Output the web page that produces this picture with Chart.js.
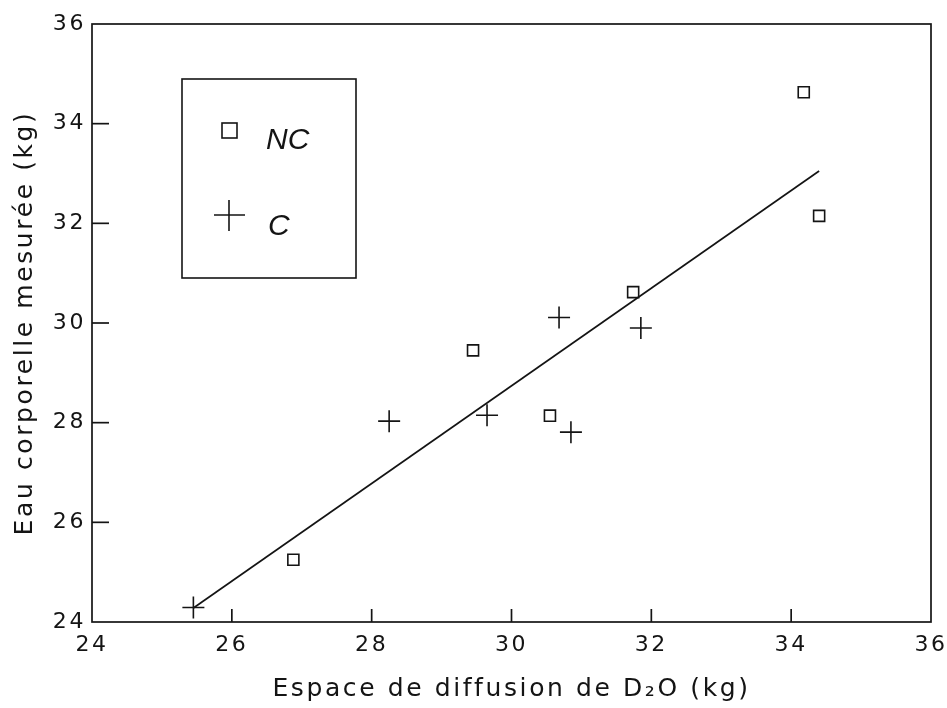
<!DOCTYPE html>
<html>
<head>
<meta charset="utf-8">
<script src="https://cdn.jsdelivr.net/npm/chart.js@4/dist/chart.umd.min.js"></script>
<style>
  body { margin: 0; background: #fff; }
  #wrap { width: 947px; height: 708px; position: relative; }
</style>
</head>
<body>
<div id="wrap"><canvas id="waterChart"></canvas></div>
<script>
// Data
const ncX = [26.88, 29.45, 30.55, 31.74, 34.18, 34.40];
const ncY = [25.25, 29.45, 28.14, 30.62, 34.63, 32.15];
const cX = [25.45, 28.25, 29.65, 30.68, 30.85, 31.85];
const cY = [24.29, 28.03, 28.15, 30.11, 27.81, 29.90];
const fitX = [25.45, 34.40];
const fitY = [24.28, 33.05];
const axisTicks = [24, 26, 28, 30, 32, 34, 36];
const legendLabels = ['NC', 'C'];

const ink = '#141414';
const toPoints = (xs, ys) => xs.map((x, i) => ({ x: x, y: ys[i] }));

// frame, inward tick marks and the boxed legend
const framePlugin = {
  id: 'frame',
  beforeDraw(chart) {
    chart.ctx.letterSpacing = '2.6px';
  },
  afterDraw(chart) {
    const ctx = chart.ctx;
    const a = chart.chartArea;
    const xs = chart.scales.x, ys = chart.scales.y;
    ctx.save();
    ctx.letterSpacing = '0px';
    ctx.strokeStyle = ink;
    ctx.lineWidth = 1.7;
    ctx.strokeRect(a.left, a.top, a.right - a.left, a.bottom - a.top);

    axisTicks.slice(1, -1).forEach(v => {
      const px = xs.getPixelForValue(v);
      ctx.beginPath();
      ctx.moveTo(px, a.bottom);
      ctx.lineTo(px, a.bottom - 13);
      ctx.stroke();
      const py = ys.getPixelForValue(v);
      ctx.beginPath();
      ctx.moveTo(a.left, py);
      ctx.lineTo(a.left + 17, py);
      ctx.stroke();
    });

    // legend box
    const lx = a.left + 90, ly = a.top + 55;
    ctx.lineWidth = 1.6;
    ctx.strokeRect(lx, ly, 174, 199);
    ctx.strokeRect(lx + 40, ly + 44, 15, 15);
    ctx.beginPath();
    ctx.moveTo(lx + 32, ly + 136);
    ctx.lineTo(lx + 63, ly + 136);
    ctx.moveTo(lx + 47, ly + 121);
    ctx.lineTo(lx + 47, ly + 152);
    ctx.stroke();
    ctx.fillStyle = ink;
    ctx.font = 'italic 30px "Liberation Sans", Arial, sans-serif';
    ctx.textBaseline = 'middle';
    ctx.textAlign = 'left';
    ctx.fillText(legendLabels[0], lx + 84, ly + 62);
    ctx.fillText(legendLabels[1], lx + 86, ly + 148);
    ctx.restore();
  }
};

const tickFont = { family: '"DejaVu Sans", sans-serif', size: 22 };
const titleFont = { family: '"DejaVu Sans", sans-serif', size: 25 };

new Chart(document.getElementById('waterChart'), {
  type: 'scatter',
  data: {
    datasets: [
      {
        label: legendLabels[0],
        data: toPoints(ncX, ncY),
        pointStyle: 'rect',
        pointRadius: 7.8,
        pointHoverRadius: 7.8,
        borderColor: ink,
        backgroundColor: 'rgba(0,0,0,0)',
        borderWidth: 1.6,
        showLine: false
      },
      {
        label: legendLabels[1],
        data: toPoints(cX, cY),
        pointStyle: 'cross',
        pointRadius: 11,
        pointHoverRadius: 11,
        borderColor: ink,
        borderWidth: 1.6,
        showLine: false
      },
      {
        label: 'fit',
        data: toPoints(fitX, fitY),
        showLine: true,
        pointRadius: 0,
        borderColor: ink,
        borderWidth: 1.7,
        fill: false
      }
    ]
  },
  options: {
    responsive: true,
    maintainAspectRatio: false,
    animation: false,
    layout: { padding: { top: 24, right: 16, left: 0, bottom: 0 } },
    plugins: { legend: { display: false }, tooltip: { enabled: false } },
    scales: {
      x: {
        type: 'linear',
        min: 24, max: 36,
        afterFit: s => { s.height = 86; s.paddingLeft = 0; s.paddingRight = 0; },
        afterBuildTicks: s => { s.ticks = axisTicks.map(v => ({ value: v })); },
        grid: { display: false, drawTicks: false },
        border: { display: false },
        ticks: { font: tickFont, color: ink, padding: 10, maxRotation: 0 },
        title: {
          display: true,
          text: 'Espace de diffusion de D\u2082O (kg)',
          font: titleFont, color: ink,
          padding: { top: 0, bottom: 4 }
        }
      },
      y: {
        type: 'linear',
        min: 24, max: 36,
        afterFit: s => { s.width = 92; s.paddingTop = 0; s.paddingBottom = 0; },
        afterBuildTicks: s => { s.ticks = axisTicks.map(v => ({ value: v })); },
        grid: { display: false, drawTicks: false },
        border: { display: false },
        ticks: { font: tickFont, color: ink, padding: 6 },
        title: {
          display: true,
          text: 'Eau corporelle mesurée (kg)',
          font: titleFont, color: ink,
          padding: { top: 10, bottom: 0 }
        }
      }
    }
  },
  plugins: [framePlugin]
});
</script>
</body>
</html>
